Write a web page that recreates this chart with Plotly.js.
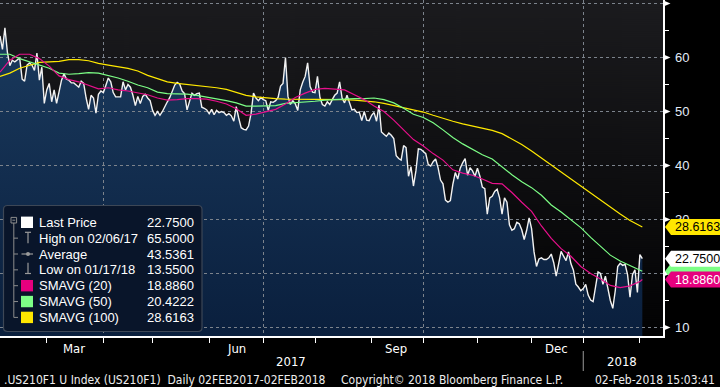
<!DOCTYPE html>
<html><head><meta charset="utf-8">
<script src="https://cdn.plot.ly/plotly-3.0.1.min.js"></script>
<style>html,body{margin:0;padding:0;background:#000;}#chart{width:720px;height:387px;}</style>
</head><body><div id="chart"></div>
<script>
// ---------------- DATA ----------------
const startDate = '2017-02-02';
const endDate = '2018-02-02';
const rangeEnd = '2018-02-14 09:36';
const price = [
64.0,61.5,65.5,61.0,58.5,59.5,59.2,59.6,59.9,56.0,
55.6,58.6,59.0,58.6,57.6,60.8,55.8,58.2,51.5,54.0,
55.2,51.8,54.0,51.5,53.5,55.8,57.0,56.0,55.8,55.3,
55.3,54.9,54.5,55.6,55.2,52.5,50.4,53.0,52.5,49.7,
53.2,53.8,53.5,54.8,56.2,55.5,53.5,52.7,52.7,52.7,
55.5,54.0,55.0,54.5,53.0,51.1,52.8,51.5,52.8,53.2,
52.5,52.0,50.2,49.3,50.0,49.3,50.0,51.0,51.8,52.6,
53.8,54.9,55.4,55.1,53.8,53.3,50.3,52.0,53.4,53.0,
53.3,53.4,50.8,50.6,50.3,49.6,50.4,49.4,50.2,49.8,
50.0,49.8,49.3,49.6,49.2,48.2,50.9,48.8,47.0,46.7,
46.6,47.3,49.6,53.4,52.5,52.0,52.6,52.2,52.0,50.2,
51.8,51.7,52.0,52.6,54.7,55.2,60.0,52.8,51.3,52.0,
51.4,50.2,54.0,55.4,56.5,59.0,54.6,53.6,53.5,56.5,
52.6,51.3,51.0,51.8,51.3,52.2,53.0,53.4,55.5,52.5,
51.6,53.0,51.5,50.3,50.4,49.8,49.9,48.3,50.0,48.4,
48.3,49.3,49.8,48.2,51.2,46.2,45.8,45.4,46.0,45.6,
45.0,41.8,41.3,41.0,43.7,43.3,38.0,39.8,36.2,39.0,
43.1,43.0,42.6,42.2,40.2,39.9,40.7,41.2,39.6,37.3,
36.6,33.6,33.2,33.5,36.5,38.7,37.5,39.5,40.5,41.3,
38.2,39.6,39.0,38.0,39.5,38.0,36.0,35.7,31.0,34.0,
34.3,35.2,35.6,34.0,31.0,34.0,33.2,29.0,28.0,28.3,
29.5,29.2,28.1,26.3,28.0,30.3,28.3,24.0,21.3,22.7,
22.9,22.6,22.6,22.9,23.6,22.0,19.5,21.8,24.1,23.2,
22.4,24.0,21.8,20.6,18.0,17.5,16.8,17.2,18.0,16.0,
15.1,14.8,17.4,20.3,20.0,18.0,19.5,17.0,15.0,13.55,
16.8,21.3,21.9,21.5,21.7,19.8,15.6,19.8,20.7,16.5,
23.5,22.75
];
// business-day index of each moving-average reading
const maIdx = [0,4,8,12,16,20,24,28,32,36,40,44,48,52,56,60,64,68,72,76,80,84,88,92,96,100,
104,108,112,116,120,124,128,132,136,140,144,148,152,156,160,164,168,172,176,180,184,188,192,196,
200,204,208,212,216,220,224,228,232,236,240,244,248,252,256,260,261];
const sma20 = [
57.3,59.5,60.6,60.6,59.8,58.4,56.6,55.9,55.5,54.8,
54.2,54.4,54.0,53.8,53.5,53.1,52.5,52.1,52.2,52.4,
52.4,52.3,51.9,51.4,50.5,49.3,49.5,49.9,50.4,51.4,
52.6,53.4,54.1,54.3,54.2,54.0,53.1,52.2,51.0,50.0,
48.4,46.5,44.8,43.6,42.2,41.0,39.2,38.6,38.2,37.5,
36.7,36.6,35.0,33.2,31.5,28.8,26.5,24.6,23.2,21.3,
20.0,19.0,17.8,17.4,17.7,18.5,18.886];
const sma50 = [
60.6,60.6,59.8,59.2,58.6,58.0,57.1,56.9,57.0,57.2,
57.1,56.7,56.2,55.6,54.9,54.4,53.6,53.3,53.3,53.2,
53.0,52.7,52.4,52.0,51.6,51.0,51.0,51.0,51.1,51.5,
51.6,51.7,51.9,52.1,52.2,52.4,52.4,52.4,52.5,52.2,
51.6,50.6,49.5,48.9,47.9,46.6,45.2,44.0,43.0,42.0,
41.2,39.7,38.3,37.0,35.9,34.5,32.7,31.4,30.0,28.5,
26.7,25.0,23.4,22.3,21.4,20.6,20.4222];
const sma100 = [
56.5,57.1,58.0,58.6,59.1,59.2,59.3,59.6,59.6,59.4,
58.9,58.6,58.3,58.0,57.5,56.7,56.1,55.5,55.2,55.0,
54.9,54.7,54.4,54.1,53.6,53.0,52.7,52.5,52.4,52.3,
52.3,52.3,52.3,52.3,52.2,52.2,52.1,52.0,51.8,51.5,
51.1,50.7,50.4,49.9,49.3,48.7,48.2,47.7,47.3,46.9,
46.5,45.9,44.9,43.9,42.7,41.4,40.1,38.7,37.5,36.2,
34.8,33.5,32.2,31.0,29.8,28.8,28.6163];
const legendLabels = ['Last Price','High on 02/06/17','Average','Low on 01/17/18','SMAVG (20)','SMAVG (50)','SMAVG (100)'];
const legendValues = ['22.7500','65.5000','43.5361','13.5500','18.8860','20.4222','28.6163'];
const lastLabels = [
  {name:'sma50', v:20.4222, t:'20.4222'},
  {name:'sma100', v:28.6163, t:'28.6163'},
  {name:'last', v:22.75, t:'22.7500'},
  {name:'sma20', v:18.886, t:'18.8860'}
];
const monthLabels = ['Mar','Jun','Sep','Dec'];
const monthLabelDates = ['2017-03-16','2017-06-16','2017-09-15','2017-12-15'];
const yearLabels = ['2017','2018'];
const yTicks = [10,20,30,40,50,60,70];
const yMinor = [15,25,35,45,55,65];
const footerLeft = '.US210F1 U Index (US210F1)  Daily 02FEB2017-02FEB2018';
const footerMid = 'Copyright\u00A9 2018 Bloomberg Finance L.P.';
const footerRight = '02-Feb-2018 15:03:41';

// ---------------- STYLE ----------------
const C = {white:'#f2f2f2', mag:'#e8108c', green:'#7dff86', yellow:'#ffe900', grid:'#7c838c', label:'#e3ecf7', icon:'#8c8c8c'};
const NARROW = '"Liberation Sans Narrow","DejaVu Sans Condensed","Arial Narrow",sans-serif';
const REG = '"Liberation Sans",Arial,sans-serif';
const PW = 663, PH = 336, Y0 = 8.426, Y1 = 70.648;
const px = x => x / PW;
const py = y => 1 - y / PH;
const vy = v => (Y1 - v) / (Y1 - Y0) * PH;

function businessDays(s, e) {
  const out = []; let d = new Date(s + 'T00:00:00Z'); const end = new Date(e + 'T00:00:00Z');
  while (d <= end) { const w = d.getUTCDay(); if (w !== 0 && w !== 6) out.push(d.toISOString().slice(0, 10)); d = new Date(d.getTime() + 86400000); }
  return out;
}
const days = businessDays(startDate, endDate);
const maDays = maIdx.map(i => days[i]);
const monthStarts = days.filter((d, i) => i > 0 && d.slice(5, 7) !== days[i - 1].slice(5, 7));
const quarterStarts = monthStarts.filter(d => ['01','04','07','10'].includes(d.slice(5, 7)));

// background gradient
const cv = document.createElement('canvas'); cv.width = 8; cv.height = 336;
const cx = cv.getContext('2d'); const g = cx.createLinearGradient(0, 0, 0, 336);
g.addColorStop(0, '#1b1b1e'); g.addColorStop(1, '#020203'); cx.fillStyle = g; cx.fillRect(0, 0, 8, 336);
const bgURL = cv.toDataURL();

// subplot xy: area fill only; subplot x2y2 (same place, drawn above): dashed grid + lines
const traces = [
  {x: days, y: price, type: 'scatter', mode: 'none', fill: 'tozeroy', xaxis: 'x', yaxis: 'y',
   fillgradient: {type: 'vertical', start: 8, stop: 66, colorscale: [[0, '#0a1f3d'], [1, '#1a3a5e']]}, hoverinfo: 'skip'},
  {x: days, y: price, type: 'scatter', mode: 'lines', xaxis: 'x2', yaxis: 'y2', line: {color: C.white, width: 1.4}, hoverinfo: 'skip'},
  {x: maDays, y: sma100, type: 'scatter', mode: 'lines', xaxis: 'x2', yaxis: 'y2', line: {color: C.yellow, width: 1.2}, hoverinfo: 'skip'},
  {x: maDays, y: sma50, type: 'scatter', mode: 'lines', xaxis: 'x2', yaxis: 'y2', line: {color: C.green, width: 1.2}, hoverinfo: 'skip'},
  {x: maDays, y: sma20, type: 'scatter', mode: 'lines', xaxis: 'x2', yaxis: 'y2', line: {color: C.mag, width: 1.2}, hoverinfo: 'skip'}
];

const shapes = [], ann = [];
// axis arrows
yTicks.forEach(v => { const y = vy(v);
  shapes.push({type: 'path', xref: 'paper', yref: 'paper', path: `M${px(663.5)},${py(y - 3)} L${px(670.5)},${py(y)} L${px(663.5)},${py(y + 3)} Z`, fillcolor: '#fff', line: {width: 0}}); });
// last-value boxes
const boxStyle = {sma50: [C.green, '#000'], sma100: ['#ffe600', '#000'], last: ['#ffffff', '#000'], sma20: ['#e6007e', '#fff']};
lastLabels.forEach(o => { const y = vy(o.v); const [bg, fg] = boxStyle[o.name];
  shapes.push({type: 'path', xref: 'paper', yref: 'paper', fillcolor: bg, line: {width: 0},
    path: `M${px(665)},${py(y)} L${px(671)},${py(y - 8)} L${px(722)},${py(y - 8)} L${px(722)},${py(y + 8)} L${px(671)},${py(y + 8)} Z`});
  if (o.name !== 'sma50') ann.push({xref: 'paper', yref: 'paper', x: px(672.5), y: py(y), xanchor: 'left', yanchor: 'middle', text: o.t, showarrow: false, font: {family: REG, size: 12.5, color: fg}});
});
// legend panel
const bx0 = 3.5, bx1 = 202, by0 = 205.5, by1 = 331.5, r = 4;
shapes.push({type: 'path', xref: 'paper', yref: 'paper', fillcolor: '#09152a', line: {color: '#3d4756', width: 1.2},
  path: `M${px(bx0 + r)},${py(by0)} L${px(bx1 - r)},${py(by0)} Q${px(bx1)},${py(by0)} ${px(bx1)},${py(by0 + r)} L${px(bx1)},${py(by1 - r)} Q${px(bx1)},${py(by1)} ${px(bx1 - r)},${py(by1)} L${px(bx0 + r)},${py(by1)} Q${px(bx0)},${py(by1)} ${px(bx0)},${py(by1 - r)} L${px(bx0)},${py(by0 + r)} Q${px(bx0)},${py(by0)} ${px(bx0 + r)},${py(by0)} Z`});
const rowY = i => 222.3 + i * 15.85;
const ln = (x0, y0, x1, y1, c, w) => shapes.push({type: 'line', xref: 'paper', yref: 'paper', x0: px(x0), x1: px(x1), y0: py(y0), y1: py(y1), line: {color: c || C.icon, width: w || 1}});
// tree
shapes.push({type: 'rect', xref: 'paper', yref: 'paper', x0: px(11), x1: px(16.6), y0: py(217.4), y1: py(223), line: {color: C.icon, width: 1}});
ln(12.4, 220.2, 15.2, 220.2);
ln(13.8, 223, 13.8, rowY(6));
for (let i = 1; i < 7; i++) ln(13.8, rowY(i), 18, rowY(i));
// icons
const sq = (i, col) => shapes.push({type: 'rect', xref: 'paper', yref: 'paper', x0: px(21), x1: px(33), y0: py(rowY(i) - 5.7), y1: py(rowY(i) + 5.7), fillcolor: col, line: {width: 0}});
sq(0, '#ffffff'); sq(4, '#e6007e'); sq(5, C.green); sq(6, '#ffe600');
ln(25, 232.3, 31, 232.3, '#9a9a9a', 1.2); ln(28, 232.3, 28, 243.3, '#9a9a9a', 1.2);
ln(21.5, 254, 33, 254, '#9a9a9a', 1.2);
shapes.push({type: 'circle', xref: 'paper', yref: 'paper', x0: px(26), x1: px(30), y0: py(252), y1: py(256), fillcolor: '#9a9a9a', line: {width: 0}});
ln(28, 262.7, 28, 273.5, '#9a9a9a', 1.2); ln(25, 273.5, 31, 273.5, '#9a9a9a', 1.2);
legendLabels.forEach((t, i) => {
  ann.push({xref: 'paper', yref: 'paper', x: px(37), y: py(rowY(i)), xanchor: 'left', yanchor: 'middle', text: t, showarrow: false, font: {family: REG, size: 13, color: '#ffffff'}});
  ann.push({xref: 'paper', yref: 'paper', x: px(195.5), y: py(rowY(i)), xanchor: 'right', yanchor: 'middle', text: legendValues[i], showarrow: false, font: {family: REG, size: 13, color: '#ffffff'}});
});
// month / year labels
monthLabels.forEach((t, i) => ann.push({xref: 'x', yref: 'paper', x: monthLabelDates[i], y: py(348), xanchor: 'center', yanchor: 'middle', text: t, showarrow: false, font: {family: NARROW, size: 13, color: '#ffffff'}}));
ann.push({xref: 'paper', yref: 'paper', x: px(291), y: py(361), xanchor: 'center', yanchor: 'middle', text: yearLabels[0], showarrow: false, font: {family: NARROW, size: 13, color: '#ffffff'}});
ann.push({xref: 'paper', yref: 'paper', x: px(622), y: py(361), xanchor: 'center', yanchor: 'middle', text: yearLabels[1], showarrow: false, font: {family: NARROW, size: 13, color: '#ffffff'}});
shapes.push({type: 'line', xref: 'x', yref: 'paper', x0: quarterStarts[quarterStarts.length - 1], x1: quarterStarts[quarterStarts.length - 1], y0: py(351), y1: py(371), line: {color: '#9a9a9a', width: 1}});
// footer
ann.push({xref: 'paper', yref: 'paper', x: px(2), y: py(379.5), xanchor: 'left', yanchor: 'middle', text: footerLeft, showarrow: false, font: {family: NARROW, size: 12, color: '#eeeeee'}});
ann.push({xref: 'paper', yref: 'paper', x: px(452), y: py(379.5), xanchor: 'center', yanchor: 'middle', text: footerMid, showarrow: false, font: {family: NARROW, size: 12, color: '#eeeeee'}});
ann.push({xref: 'paper', yref: 'paper', x: px(717), y: py(379.5), xanchor: 'right', yanchor: 'middle', text: footerRight, showarrow: false, font: {family: NARROW, size: 12, color: '#eeeeee'}});

const gridAxis = {showgrid: true, gridcolor: C.grid, gridwidth: 1, griddash: '3px,3px', showticklabels: false, ticks: '', zeroline: false, showline: false, fixedrange: true};
const layout = {
  width: 720, height: 387, margin: {l: 0, r: 57, t: 0, b: 51, pad: 0},
  paper_bgcolor: '#000', plot_bgcolor: 'rgba(0,0,0,0)', showlegend: false,
  images: [{source: bgURL, xref: 'paper', yref: 'paper', x: 0, y: 1, sizex: 1, sizey: 1, xanchor: 'left', yanchor: 'top', sizing: 'stretch', layer: 'below'}],
  xaxis: {type: 'date', range: [days[0], rangeEnd], rangebreaks: [{bounds: ['sat', 'mon']}], anchor: 'y',
    tickmode: 'array', tickvals: monthStarts, ticktext: monthStarts.map(() => ''), ticks: 'outside', ticklen: 5, tickcolor: '#fff', tickwidth: 1,
    showgrid: false, zeroline: false, showline: true, linecolor: '#fff', linewidth: 1.5, fixedrange: true},
  yaxis: {side: 'right', range: [Y0, Y1], anchor: 'x', tickmode: 'array', tickvals: yTicks, ticktext: yTicks.map(v => v === 70 ? '' : String(v)),
    ticks: 'outside', ticklen: 8, tickcolor: 'rgba(0,0,0,0)', showgrid: false, zeroline: false, showline: true, linecolor: '#fff', linewidth: 1.5,
    tickfont: {family: REG, size: 13, color: C.label},
    minor: {tickmode: 'array', tickvals: yMinor, ticks: 'outside', ticklen: 4, tickcolor: '#fff', showgrid: false}, fixedrange: true},
  xaxis2: Object.assign({type: 'date', range: [days[0], rangeEnd], rangebreaks: [{bounds: ['sat', 'mon']}], anchor: 'y2', tickmode: 'array', tickvals: quarterStarts}, gridAxis),
  yaxis2: Object.assign({range: [Y0, Y1], anchor: 'x2', side: 'right', tickmode: 'array', tickvals: yTicks}, gridAxis),
  shapes: shapes, annotations: ann
};
Plotly.newPlot('chart', traces, layout, {staticPlot: true, displayModeBar: false});
</script></body></html>
